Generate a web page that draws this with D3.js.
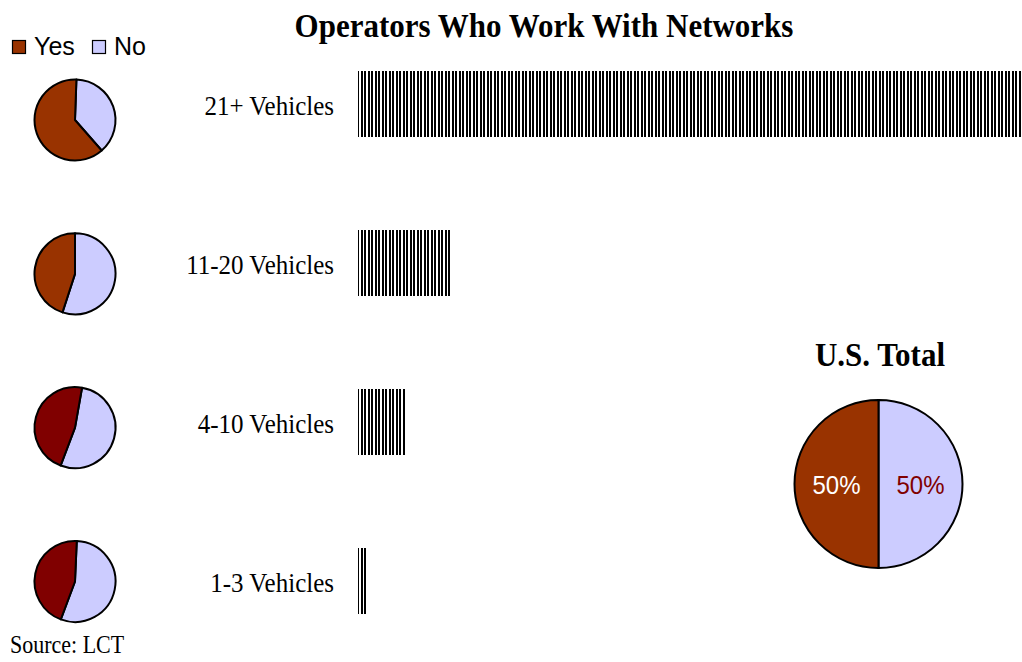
<!DOCTYPE html>
<html>
<head>
<meta charset="utf-8">
<script src="https://cdn.jsdelivr.net/npm/d3@7/dist/d3.min.js"></script>
<style>
  html, body { margin: 0; padding: 0; background: #fff; }
  svg { display: block; }
</style>
</head>
<body>
<svg id="chart" width="1022" height="662"></svg>
<script>
// Fleet-size groups, top to bottom
const categories = ["21+ Vehicles", "11-20 Vehicles", "4-10 Vehicles", "1-3 Vehicles"];
// Bar lengths per group
const barValues = [71, 10, 5, 1];
// Share of operators answering Yes / No per group (percent)
const yesShare = [62, 45, 47, 45];
const noShare = [38, 55, 53, 55];
// Nationwide split
const totalLabels = ["Yes", "No"];
const totalShare = [50, 50];
const totalTitle = "U.S. Total";

// Styling
const yesColors = ["#993300", "#993300", "#800000", "#800000"];
const noColor = "#CCCCFF";
const pieRotationDeg = [2, 0, 10, 2.5];
const textStretch = 1.1; // serif text is drawn slightly tall

const svg = d3.select("#chart");
const serif = "'Liberation Serif', 'Times New Roman', serif";
const sans = "'Liberation Sans', Arial, sans-serif";

// Place a text element at (x, y) with a vertical stretch
function tallText(parent, x, y) {
  return parent.append("g")
    .attr("transform", `translate(${x},${y}) scale(1,${textStretch})`)
    .append("text");
}

// Vertical stripe fill for the bars
const defs = svg.append("defs");
const pat = defs.append("pattern")
  .attr("id", "stripes")
  .attr("patternUnits", "userSpaceOnUse")
  .attr("width", 7).attr("height", 10);
pat.append("rect").attr("x", 0).attr("y", 0).attr("width", 7).attr("height", 10).attr("fill", "#fff");
pat.append("rect").attr("x", 0).attr("y", 0).attr("width", 2).attr("height", 10).attr("fill", "#000");
pat.append("rect").attr("x", 4).attr("y", 0).attr("width", 2).attr("height", 10).attr("fill", "#000");

// Title
tallText(svg, 544, 37)
  .attr("text-anchor", "middle")
  .style("font-family", serif).style("font-weight", "bold").style("font-size", "31px")
  .text("Operators Who Work With Networks");

// Legend
const legend = svg.append("g");
const legendItems = [{label: "Yes", color: "#993300", x: 12}, {label: "No", color: noColor, x: 92}];
legendItems.forEach(d => {
  legend.append("rect").attr("x", d.x + 0.5).attr("y", 40.5).attr("width", 13).attr("height", 13)
    .attr("fill", d.color).attr("stroke", "#000").attr("stroke-width", 1.2);
  legend.append("text").attr("x", d.x + 22).attr("y", 55)
    .style("font-family", sans).style("font-size", "25px").text(d.label);
});

// Bars
const x = d3.scaleLinear().domain([0, d3.max(barValues)]).range([358, 1022]);
const yBar = d3.scalePoint().domain(categories).range([104, 581]);
const barH = 66;

svg.append("g").selectAll("rect")
  .data(categories)
  .join("rect")
  .attr("x", x(0))
  .attr("y", d => yBar(d) - barH / 2)
  .attr("width", (d, i) => x(barValues[i]) - x(0))
  .attr("height", barH)
  .attr("fill", "url(#stripes)")
  .attr("shape-rendering", "crispEdges");

// Group labels
const labelLayer = svg.append("g");
categories.forEach(cat => {
  tallText(labelLayer, 334, yBar(cat) + 1)
    .attr("dy", "0.35em")
    .attr("text-anchor", "end")
    .style("font-family", serif).style("font-size", "25px")
    .text(cat);
});

// Small pies per group
const yPie = d3.scalePoint().domain(categories).range([120, 581.5]);
const pieR = 40.5;
const arc = d3.arc().innerRadius(0).outerRadius(pieR);

categories.forEach((cat, i) => {
  const rot = pieRotationDeg[i] * Math.PI / 180;
  const slices = d3.pie().sort(null)
    .startAngle(rot).endAngle(rot + 2 * Math.PI)
    .value(d => d.v)([{k: "No", v: noShare[i]}, {k: "Yes", v: yesShare[i]}]);
  const g = svg.append("g").attr("transform", `translate(75,${yPie(cat)})`);
  g.selectAll("path").data(slices).join("path")
    .attr("d", arc)
    .attr("fill", d => d.data.k === "Yes" ? yesColors[i] : noColor)
    .attr("stroke", "#000").attr("stroke-width", 2).attr("stroke-linejoin", "round");
});

// U.S. total pie
const totalR = 84;
const totalArc = d3.arc().innerRadius(0).outerRadius(totalR);
const totalData = totalLabels.map((k, i) => ({k, v: totalShare[i]}));
const totalSlices = d3.pie().sort(null).value(d => d.v)([totalData[1], totalData[0]]);
const tg = svg.append("g").attr("transform", "translate(878.5,484)");
tg.selectAll("path").data(totalSlices).join("path")
  .attr("d", totalArc)
  .attr("fill", d => d.data.k === "Yes" ? "#993300" : noColor)
  .attr("stroke", "#000").attr("stroke-width", 2);
totalSlices.forEach(d => {
  const [cx, cy] = totalArc.centroid(d);
  tallText(tg, cx, cy)
    .attr("dy", "0.36em")
    .attr("text-anchor", "middle")
    .style("font-family", sans).style("font-size", "24px")
    .attr("fill", d.data.k === "Yes" ? "#fff" : "#800000")
    .text(d.data.v + "%");
});

tallText(svg, 880, 366)
  .attr("text-anchor", "middle")
  .style("font-family", serif).style("font-weight", "bold").style("font-size", "31px")
  .text(totalTitle);

// Source note
tallText(svg, 10, 653)
  .style("font-family", serif).style("font-size", "22px")
  .text("Source: LCT");
</script>
</body>
</html>
